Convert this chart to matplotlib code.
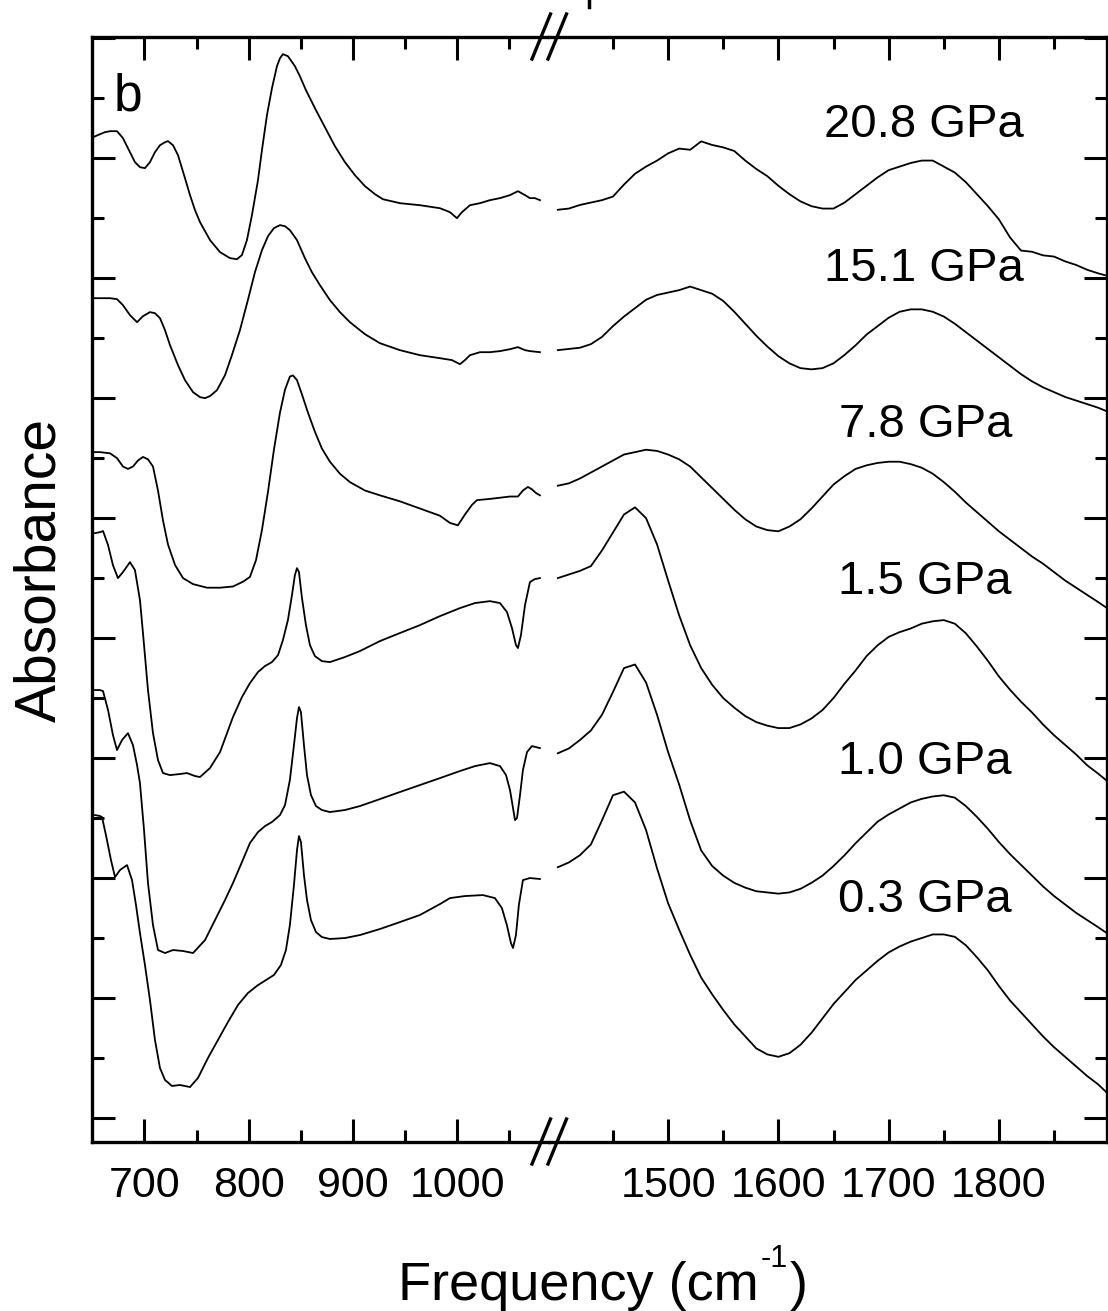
import numpy as np
import matplotlib
matplotlib.use("Agg")
import matplotlib.pyplot as plt
from matplotlib.lines import Line2D
from matplotlib.ticker import MultipleLocator, FixedLocator

plt.rcParams['font.family'] = ['Liberation Sans', 'DejaVu Sans']

pressures = ['20.8 GPa', '15.1 GPa', '7.8 GPa', '1.5 GPa', '1.0 GPa', '0.3 GPa']

# ---- low-frequency window (cm-1, absorbance with offsets) ----
wl_208 = [650.7, 657.4, 662.2, 667.0, 673.7, 679.4, 686.1, 690.9, 695.7, 700.5, 705.3, 710.1, 714.9, 719.7,
          722.6, 727.4, 732.2, 738.9, 743.7, 748.5, 753.3, 762.9, 772.5, 782.0, 788.7, 793.5, 798.3, 803.1,
          808.9, 812.7, 817.5, 822.3, 827.1, 830.0, 832.8, 837.6, 844.3, 849.1, 854.9, 863.5, 873.1, 882.7,
          892.3, 901.9, 911.5, 921.1, 928.7, 945.0, 964.2, 983.4, 993.0, 999.7, 1004.5, 1012.2, 1021.8,
          1031.3, 1041.0, 1050.6, 1058.2, 1065.0, 1069.7, 1074.5, 1079.3]
al_208 = [8.175, 8.200, 8.217, 8.225, 8.225, 8.167, 8.050, 7.967, 7.925, 7.917, 7.967, 8.050, 8.108, 8.133,
          8.142, 8.108, 8.025, 7.833, 7.692, 7.567, 7.467, 7.317, 7.217, 7.167, 7.158, 7.192, 7.317, 7.525,
          7.817, 8.067, 8.358, 8.583, 8.767, 8.833, 8.867, 8.850, 8.767, 8.683, 8.567, 8.417, 8.258, 8.100,
          7.967, 7.858, 7.767, 7.700, 7.658, 7.625, 7.608, 7.583, 7.550, 7.500, 7.550, 7.608, 7.625,
          7.650, 7.667, 7.692, 7.725, 7.692, 7.667, 7.667, 7.650]

wl_151 = [650.7, 657.4, 667.0, 673.7, 679.4, 686.1, 692.9, 698.6, 705.3, 710.1, 714.9, 719.7, 724.5, 732.2,
          738.9, 746.6, 753.3, 758.1, 762.9, 769.6, 777.3, 783.9, 791.6, 799.2, 806.0, 812.7, 818.5, 824.2,
          830.0, 834.8, 839.5, 846.3, 853.9, 860.6, 868.3, 877.9, 887.5, 897.1, 911.5, 925.8, 945.0, 964.2,
          983.4, 994.9, 1002.6, 1007.4, 1012.2, 1021.8, 1031.3, 1041.0, 1050.6, 1058.2, 1065.0, 1069.7, 1079.3]
al_151 = [6.833, 6.833, 6.833, 6.825, 6.775, 6.692, 6.633, 6.683, 6.717, 6.708, 6.667, 6.567, 6.442, 6.275,
          6.150, 6.050, 6.008, 6.000, 6.017, 6.067, 6.192, 6.358, 6.567, 6.817, 7.050, 7.233, 7.350, 7.417,
          7.442, 7.433, 7.400, 7.317, 7.167, 7.050, 6.942, 6.817, 6.717, 6.633, 6.533, 6.458, 6.400, 6.358,
          6.333, 6.317, 6.283, 6.317, 6.358, 6.383, 6.383, 6.392, 6.408, 6.425, 6.400, 6.392, 6.383]

wl_78 = [650.7, 657.4, 667.0, 673.7, 679.4, 684.2, 689.0, 693.8, 698.6, 703.4, 708.2, 713.0, 717.8, 722.6,
         729.3, 737.0, 746.6, 760.0, 772.5, 784.9, 794.5, 801.2, 807.0, 812.7, 818.5, 824.2, 830.0, 834.8,
         839.5, 842.4, 846.3, 851.1, 856.8, 863.5, 870.2, 877.9, 887.5, 897.1, 911.5, 925.8, 945.0, 964.2,
         983.4, 993.0, 1000.6, 1007.4, 1014.1, 1018.9, 1031.3, 1041.0, 1050.6, 1058.2, 1063.0, 1067.8,
         1071.6, 1075.4, 1079.3]
al_78 = [5.55, 5.55, 5.54, 5.50, 5.43, 5.41, 5.43, 5.48, 5.51, 5.49, 5.43, 5.23, 4.98, 4.78,
         4.61, 4.50, 4.45, 4.42, 4.42, 4.43, 4.47, 4.51, 4.65, 4.90, 5.22, 5.57, 5.88, 6.07,
         6.18, 6.19, 6.15, 6.03, 5.88, 5.72, 5.58, 5.47, 5.37, 5.30, 5.23, 5.19, 5.14, 5.08,
         5.02, 4.96, 4.94, 5.03, 5.11, 5.15, 5.16, 5.17, 5.18, 5.18, 5.23, 5.26,
         5.24, 5.21, 5.19]

wl_15 = [652.6, 657.4, 660.3, 665.1, 669.8, 674.6, 679.4, 686.1, 690.9, 695.7, 698.6, 703.4, 708.2, 713.0,
         717.8, 724.5, 734.1, 740.8, 748.5, 753.3, 762.9, 772.5, 784.9, 793.5, 801.2, 808.9, 815.6, 822.3,
         828.1, 832.8, 837.6, 841.5, 844.3, 846.3, 848.2, 851.1, 854.9, 858.7, 863.5, 870.2, 877.9, 892.3,
         906.7, 925.8, 945.0, 964.2, 983.4, 1002.6, 1017.0, 1031.3, 1041.0, 1047.7, 1052.5, 1056.3, 1058.2,
         1061.1, 1065.0, 1069.7, 1074.5, 1079.3]
al_15 = [4.875, 4.883, 4.892, 4.775, 4.608, 4.500, 4.550, 4.633, 4.567, 4.317, 4.042, 3.567, 3.208, 2.983,
         2.875, 2.858, 2.867, 2.875, 2.850, 2.842, 2.917, 3.050, 3.342, 3.508, 3.625, 3.717, 3.767, 3.800,
         3.858, 3.983, 4.150, 4.358, 4.525, 4.583, 4.550, 4.333, 4.108, 3.942, 3.850, 3.808, 3.800, 3.842,
         3.892, 3.975, 4.042, 4.108, 4.183, 4.250, 4.292, 4.308, 4.292, 4.217, 4.083, 3.942, 3.917,
         4.025, 4.275, 4.467, 4.492, 4.500]

wl_10 = [652.6, 657.4, 660.3, 665.1, 669.8, 673.7, 678.5, 684.2, 689.0, 692.9, 695.7, 699.6, 703.4, 708.2,
         713.0, 719.7, 727.4, 737.0, 746.6, 758.1, 767.7, 777.3, 784.9, 793.5, 801.2, 808.9, 815.6, 822.3,
         830.0, 834.8, 839.5, 843.4, 846.3, 848.2, 850.1, 853.0, 855.9, 859.7, 864.5, 870.2, 877.9, 892.3,
         906.7, 925.8, 945.0, 964.2, 983.4, 1002.6, 1017.0, 1031.3, 1041.0, 1046.8, 1050.6, 1053.5, 1055.4,
         1057.3, 1060.2, 1063.0, 1066.9, 1071.6, 1079.3]
al_10 = [3.567, 3.567, 3.558, 3.400, 3.192, 3.067, 3.150, 3.208, 3.108, 2.942, 2.792, 2.400, 1.958, 1.608,
         1.400, 1.375, 1.400, 1.392, 1.375, 1.483, 1.650, 1.817, 1.958, 2.133, 2.292, 2.383, 2.433, 2.467,
         2.525, 2.608, 2.817, 3.108, 3.333, 3.425, 3.383, 3.108, 2.858, 2.692, 2.600, 2.567, 2.550, 2.567,
         2.600, 2.658, 2.717, 2.775, 2.833, 2.892, 2.933, 2.958, 2.933, 2.858, 2.733, 2.583, 2.483,
         2.500, 2.692, 2.900, 3.050, 3.100, 3.083]

wl_03 = [652.6, 657.4, 659.3, 663.1, 667.9, 671.8, 676.6, 683.3, 688.1, 691.9, 695.7, 700.5, 705.3, 710.1,
         714.9, 719.7, 726.4, 734.1, 743.7, 751.3, 760.9, 770.5, 780.1, 789.7, 799.3, 808.9, 816.6, 824.2,
         830.9, 835.7, 839.5, 843.4, 846.3, 848.2, 850.1, 853.0, 855.9, 859.7, 864.5, 870.2, 877.9, 892.3,
         906.7, 925.8, 945.0, 964.2, 983.4, 993.0, 1007.4, 1024.6, 1036.1, 1042.8, 1047.6, 1051.5, 1053.5,
         1056.3, 1059.1, 1063.0, 1069.7, 1079.3]
al_03 = [2.525, 2.517, 2.508, 2.358, 2.150, 2.008, 2.067, 2.108, 1.983, 1.775, 1.542, 1.275, 0.983, 0.650,
         0.417, 0.317, 0.267, 0.275, 0.258, 0.333, 0.500, 0.650, 0.800, 0.942, 1.042, 1.108, 1.150, 1.192,
         1.275, 1.400, 1.608, 1.942, 2.233, 2.350, 2.300, 2.025, 1.817, 1.650, 1.550, 1.508, 1.492, 1.500,
         1.525, 1.575, 1.633, 1.692, 1.783, 1.833, 1.850, 1.858, 1.833, 1.750, 1.608, 1.458, 1.417,
         1.525, 1.775, 1.983, 2.000, 1.992]

# ---- high-frequency window, common 10 cm-1 grid ----
wr = list(range(1400, 1900, 10)) + [1898]
ar_208 = [7.57, 7.58, 7.61, 7.63, 7.65, 7.68, 7.78, 7.87, 7.93, 7.98,
          8.04, 8.08, 8.07, 8.14, 8.11, 8.09, 8.06, 7.98, 7.91, 7.85,
          7.77, 7.70, 7.64, 7.60, 7.58, 7.58, 7.63, 7.70, 7.77, 7.84,
          7.90, 7.93, 7.96, 7.98, 7.98, 7.93, 7.88, 7.80, 7.70, 7.60,
          7.49, 7.34, 7.23, 7.22, 7.19, 7.18, 7.14, 7.11, 7.07, 7.04, 7.02]
ar_151 = [6.40, 6.41, 6.42, 6.45, 6.51, 6.60, 6.68, 6.75, 6.82, 6.86,
          6.88, 6.90, 6.93, 6.90, 6.87, 6.81, 6.72, 6.62, 6.52, 6.43,
          6.35, 6.29, 6.25, 6.24, 6.25, 6.29, 6.36, 6.44, 6.53, 6.60,
          6.67, 6.72, 6.74, 6.74, 6.72, 6.68, 6.62, 6.55, 6.48, 6.41,
          6.34, 6.27, 6.20, 6.14, 6.09, 6.05, 6.01, 5.98, 5.95, 5.92, 5.89]
ar_78 = [5.27, 5.29, 5.33, 5.38, 5.43, 5.48, 5.53, 5.55, 5.57, 5.56,
         5.53, 5.49, 5.43, 5.34, 5.25, 5.16, 5.07, 4.99, 4.93, 4.90,
         4.89, 4.93, 4.99, 5.08, 5.18, 5.28, 5.35, 5.41, 5.44, 5.46,
         5.47, 5.47, 5.45, 5.42, 5.37, 5.30, 5.22, 5.13, 5.05, 4.97,
         4.89, 4.82, 4.75, 4.68, 4.62, 4.55, 4.48, 4.42, 4.36, 4.30, 4.25]
ar_15 = [4.50, 4.53, 4.56, 4.60, 4.73, 4.88, 5.03, 5.09, 5.00, 4.78,
         4.48, 4.19, 3.94, 3.75, 3.61, 3.50, 3.42, 3.35, 3.30, 3.27,
         3.25, 3.25, 3.28, 3.33, 3.40, 3.50, 3.62, 3.73, 3.85, 3.94,
         4.01, 4.05, 4.08, 4.12, 4.14, 4.15, 4.12, 4.04, 3.93, 3.81,
         3.68, 3.57, 3.47, 3.38, 3.28, 3.19, 3.11, 3.03, 2.94, 2.87, 2.81]
ar_10 = [3.04, 3.08, 3.15, 3.23, 3.36, 3.55, 3.75, 3.78, 3.63, 3.36,
         3.05, 2.78, 2.48, 2.23, 2.10, 2.02, 1.96, 1.92, 1.89, 1.88,
         1.87, 1.88, 1.91, 1.96, 2.02, 2.10, 2.19, 2.29, 2.38, 2.47,
         2.53, 2.58, 2.63, 2.66, 2.68, 2.69, 2.67, 2.60, 2.51, 2.41,
         2.30, 2.20, 2.11, 2.02, 1.93, 1.85, 1.78, 1.71, 1.65, 1.59, 1.54]
ar_03 = [2.09, 2.13, 2.19, 2.28, 2.48, 2.69, 2.72, 2.63, 2.40, 2.08,
         1.79, 1.57, 1.36, 1.17, 1.03, 0.90, 0.78, 0.68, 0.58, 0.53,
         0.51, 0.54, 0.61, 0.71, 0.83, 0.95, 1.05, 1.15, 1.23, 1.31,
         1.38, 1.43, 1.47, 1.50, 1.53, 1.53, 1.51, 1.44, 1.34, 1.23,
         1.10, 0.98, 0.88, 0.78, 0.68, 0.59, 0.51, 0.43, 0.35, 0.28, 0.21]

left_x = [wl_208, wl_151, wl_78, wl_15, wl_10, wl_03]
left_y = [al_208, al_151, al_78, al_15, al_10, al_03]
right_y = [ar_208, ar_151, ar_78, ar_15, ar_10, ar_03]

# label anchors (right edge) in the high-frequency window
label_x = [1822.6, 1822.6, 1811.8, 1811.8, 1811.8, 1811.8]
label_y = [8.28, 7.08, 5.78, 4.47, 2.97, 1.82]

W, H = 1108, 1311
fig = plt.figure(figsize=(W / 100, H / 100), dpi=100)
bot = 1 - 1142 / H
top = 1 - 37 / H
axl = fig.add_axes([92.3 / W, bot, (549 - 92.3) / W, top - bot])
axr = fig.add_axes([549 / W, bot, (1107 - 549) / W, top - bot])

for x, y in zip(left_x, left_y):
    axl.plot(x, y, color='black', lw=1.3)
for y in right_y:
    axr.plot(wr, y, color='black', lw=1.3)

axl.set_xlim(650, 1088)
axr.set_xlim(1392, 1898)
for ax in (axl, axr):
    ax.set_ylim(-0.2, 9.01)
    ax.yaxis.set_major_locator(MultipleLocator(1))
    ax.yaxis.set_minor_locator(MultipleLocator(0.5))
    ax.tick_params(which='both', direction='in', width=2.2, top=True, labelsize=31, pad=17)
    ax.tick_params(which='major', length=16.5)
    ax.tick_params(which='minor', length=8.5)
    ax.set_yticklabels([])
    for s in ax.spines.values():
        s.set_linewidth(2.4)

axl.xaxis.set_major_locator(FixedLocator([700, 800, 900, 1000]))
axl.xaxis.set_minor_locator(FixedLocator([750, 850, 950, 1050]))
axr.xaxis.set_major_locator(FixedLocator([1500, 1600, 1700, 1800]))
axr.xaxis.set_minor_locator(FixedLocator([1450, 1550, 1650, 1750, 1850]))
axl.spines['right'].set_visible(False)
axr.spines['left'].set_visible(False)
axl.tick_params(which='both', right=False, left=True)
axr.tick_params(which='both', left=False, right=True)

for t, lx, ly in zip(pressures, label_x, label_y):
    axr.text(lx, ly, t, fontsize=34, ha='right', va='center')
axl.text(670.1, 8.40, 'b', fontsize=37, ha='left', va='baseline')

# axis break marks
for yb in (1142, 37):
    for x0 in (532, 548):
        fig.add_artist(Line2D([x0 / W, (x0 + 18.5) / W], [1 - (yb + 22) / H, 1 - (yb - 23) / H],
                              color='black', lw=2.4))
# bit of the panel above that shows at the top edge
fig.add_artist(Line2D([589 / W, 589 / W], [1.0, 1 - 7 / H], color='black', lw=2.5))

# x label, superscript written as a hyphen like the original
xl = fig.text(398 / W, 1 - 1300 / H, 'Frequency (cm', fontsize=39, ha='left', va='baseline')
fig.canvas.draw()
bb = xl.get_window_extent()
sp = fig.text((bb.x1 + 2) / W, 1 - 1267 / H, '-1', fontsize=22, ha='left', va='baseline')
fig.canvas.draw()
bs = sp.get_window_extent()
fig.text((bs.x1 + 2) / W, 1 - 1300 / H, ')', fontsize=39, ha='left', va='baseline')

fig.text(40 / W, 1 - 570 / H, 'Absorbance', fontsize=41, rotation=90, ha='center', va='center')

fig.savefig('out.png', dpi=100)
